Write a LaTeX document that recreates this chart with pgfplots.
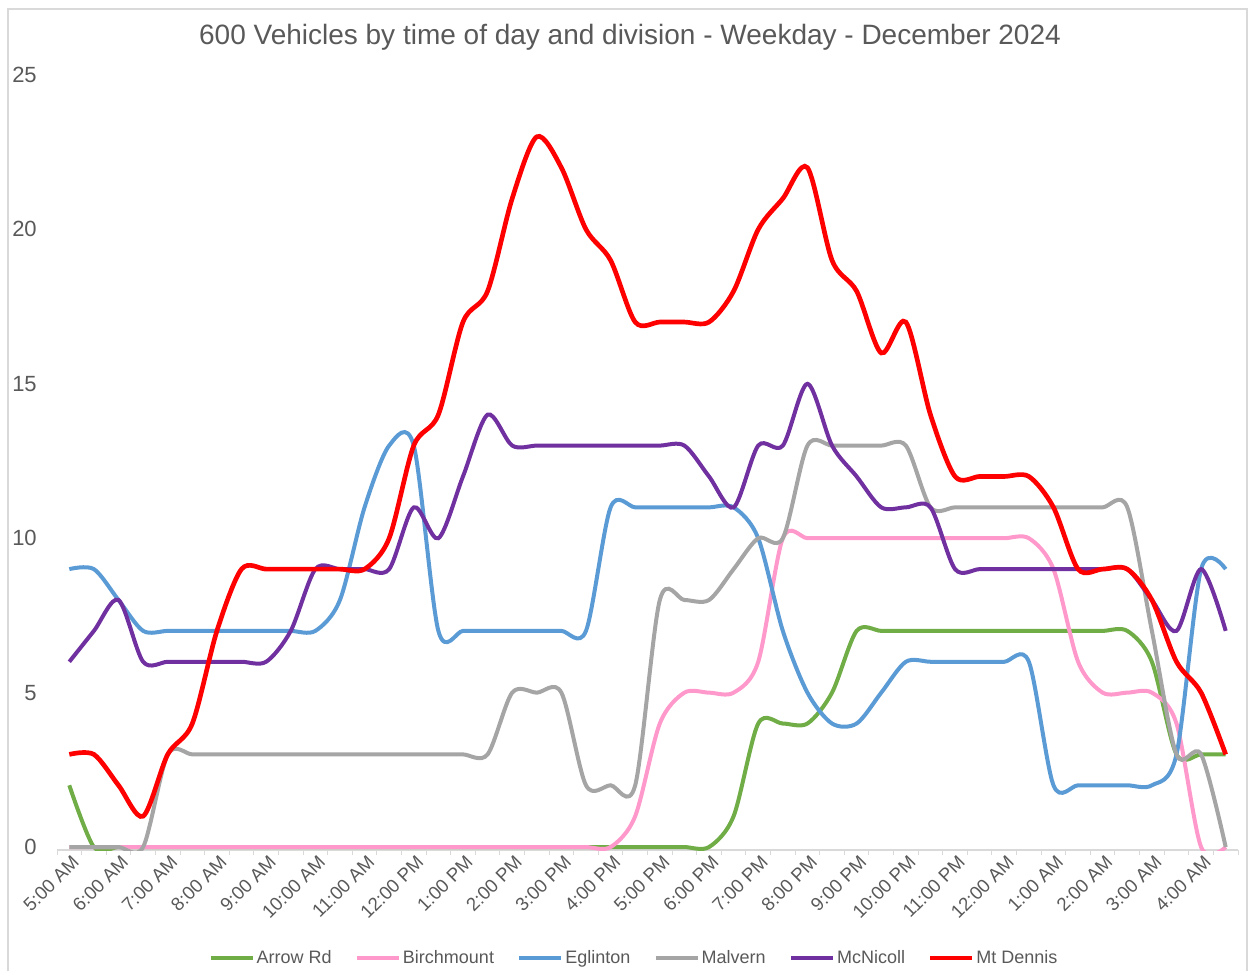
\documentclass[border=0pt]{standalone}
\usepackage{fontspec}
\setmainfont{Liberation Sans}
\usepackage{pgfplots}
\pgfplotsset{compat=1.18}
\usepackage{pgfplotstable}

\definecolor{cArrow}{HTML}{70AD47}
\definecolor{cBirch}{HTML}{FF99CC}
\definecolor{cEgl}{HTML}{5B9BD5}
\definecolor{cMalv}{HTML}{A5A5A5}
\definecolor{cMcN}{HTML}{7030A0}
\definecolor{cMtD}{HTML}{FF0000}
\definecolor{txt}{HTML}{595959}
\definecolor{frame}{HTML}{D9D9D9}

\pgfplotstableread{
i A B E M N D
0 2 0 9 0 6 3
1 0 0 9 0 7 3
2 0 0 8 0 8 2
3 0 0 7 0 6 1
4 0 0 7 3 6 3
5 0 0 7 3 6 4
6 0 0 7 3 6 7
7 0 0 7 3 6 9
8 0 0 7 3 6 9
9 0 0 7 3 7 9
10 0 0 7 3 9 9
11 0 0 8 3 9 9
12 0 0 11 3 9 9
13 0 0 13 3 9 10
14 0 0 13 3 11 13
15 0 0 7 3 10 14
16 0 0 7 3 12 17
17 0 0 7 3 14 18
18 0 0 7 5 13 21
19 0 0 7 5 13 23
20 0 0 7 5 13 22
21 0 0 7 2 13 20
22 0 0 11 2 13 19
23 0 1 11 2 13 17
24 0 4 11 8 13 17
25 0 5 11 8 13 17
26 0 5 11 8 12 17
27 1 5 11 9 11 18
28 4 6 10 10 13 20
29 4 10 7 10 13 21
30 4 10 5 13 15 22
31 5 10 4 13 13 19
32 7 10 4 13 12 18
33 7 10 5 13 11 16
34 7 10 6 13 11 17
35 7 10 6 11 11 14
36 7 10 6 11 9 12
37 7 10 6 11 9 12
38 7 10 6 11 9 12
39 7 10 6 11 9 12
40 7 9 2 11 9 11
41 7 6 2 11 9 9
42 7 5 2 11 9 9
43 7 5 2 11 9 9
44 6 5 2 7 8 8
45 3 4 3 3 7 6
46 3 0 9 3 9 5
47 3 0 9 0 7 3
}\datatable

\begin{document}
\begin{tikzpicture}
\useasboundingbox (0pt,0pt) rectangle (939pt,-728.25pt);
\draw[frame, line width=1.5pt] (6pt,-728.25pt) -- (6pt,-6.75pt) -- (935.25pt,-6.75pt) -- (935.25pt,-728.25pt);
\node[txt, font=\fontsize{21}{25}\selectfont, anchor=center] at (472.5pt,-27.75pt) {600 Vehicles by time of day and division - Weekday - December 2024};
\begin{axis}[
  at={(42.75pt,-637.6pt)}, anchor=south west,
  scale only axis,
  width=885.75pt, height=581.35pt,
  xmin=-0.5, xmax=47.5, ymin=-0.1, ymax=25,
  clip=true,
  axis x line*=bottom, axis y line*=left,
  x axis line style={frame, line width=1pt},
  y axis line style={draw=none},
  xtick={0,2,...,46},
  xticklabels={5:00 AM,6:00 AM,7:00 AM,8:00 AM,9:00 AM,10:00 AM,11:00 AM,12:00 PM,1:00 PM,2:00 PM,3:00 PM,4:00 PM,5:00 PM,6:00 PM,7:00 PM,8:00 PM,9:00 PM,10:00 PM,11:00 PM,12:00 AM,1:00 AM,2:00 AM,3:00 AM,4:00 AM},
  minor xtick={-0.5,0.5,...,47.5},
  ytick={0,5,...,25},
  major tick length=0pt,
  minor tick length=3.75pt,
  tick align=outside,
  minor tick style={frame, line width=0.75pt},
  x tick label style={txt, font=\fontsize{14}{16}\selectfont, rotate=45, anchor=east, inner sep=0pt, yshift=-8pt, xshift=-1pt},
  y tick label style={txt, font=\fontsize{16.5}{19}\selectfont, anchor=east, inner sep=0pt, xshift=-15pt},
  /pgf/number format/assume math mode=true,
  legend columns=6,
  legend style={draw=none, fill=none, at={(0.4886,-0.139)}, anchor=center,
    font=\fontsize{13.5}{16}\selectfont, text=txt,
    nodes={inner sep=1.5pt},
    /tikz/every even column/.append style={column sep=16pt}},
  legend image code/.code={\draw[#1, line width=3pt] (0pt,0pt) -- (31.5pt,0pt);},
]
\addplot[cArrow, line width=3pt, smooth, tension=0.5] table[x=i, y=A] {\datatable};
\addlegendentry{Arrow Rd}
\addplot[cBirch, line width=3pt, smooth, tension=0.5] table[x=i, y=B] {\datatable};
\addlegendentry{Birchmount}
\addplot[cEgl, line width=3pt, smooth, tension=0.5] table[x=i, y=E] {\datatable};
\addlegendentry{Eglinton}
\addplot[cMalv, line width=3pt, smooth, tension=0.5] table[x=i, y=M] {\datatable};
\addlegendentry{Malvern}
\addplot[cMcN, line width=3pt, smooth, tension=0.5] table[x=i, y=N] {\datatable};
\addlegendentry{McNicoll}
\addplot[cMtD, line width=3.5pt, smooth, tension=0.5] table[x=i, y=D] {\datatable};
\addlegendentry{Mt Dennis}
\end{axis}
\end{tikzpicture}
\end{document}
